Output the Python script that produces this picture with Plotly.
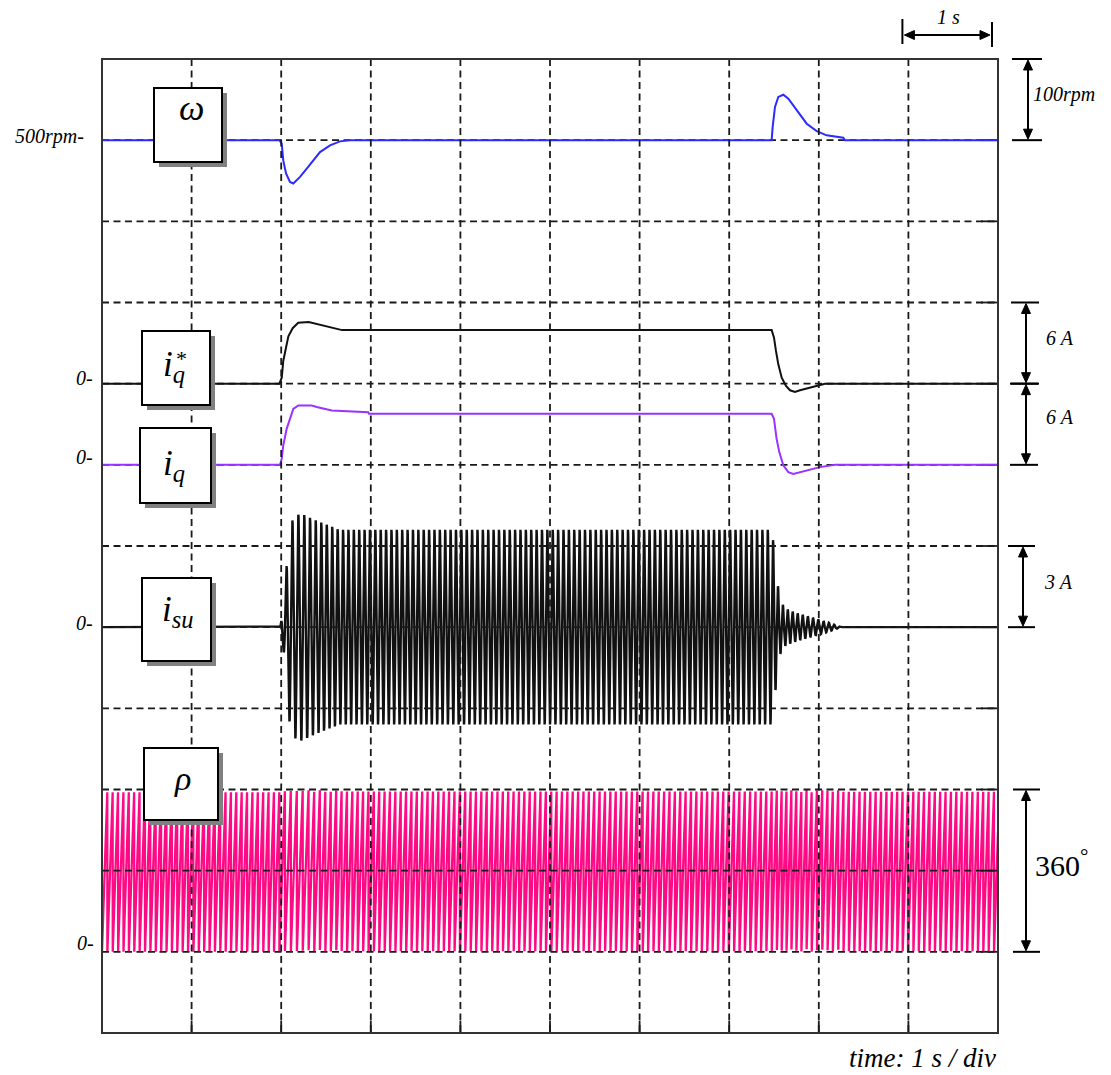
import numpy as np
import plotly.graph_objects as go

# ---------------- recorded channels ----------------
# speed omega (rpm): load step-on at ~2 s, step-off at ~7.5 s
T_OMEGA = [0.0, 1.98, 2.006, 2.023, 2.054, 2.098, 2.135, 2.21, 2.285, 2.358, 2.433, 2.545, 2.656, 2.768,
           7.474, 7.485, 7.511, 7.548, 7.604, 7.66, 7.753, 7.865, 7.977, 8.088, 8.273, 8.292, 10.0]
OMEGA_RPM = [500, 500, 495.7, 475, 459, 448.6, 446.6, 454.8, 465, 475, 485.3, 493.6, 498.5, 500,
             500, 516.4, 541, 553.3, 556, 551, 536.7, 520.3, 511.2, 506, 503, 500, 500]

# q-axis current reference i_q* (A)
T_IQ_REF = [0.0, 1.98, 2.006, 2.023, 2.054, 2.08, 2.128, 2.19, 2.307, 2.455, 2.679,
            7.474, 7.5, 7.522, 7.548, 7.586, 7.634, 7.679, 7.734, 7.79, 7.902, 7.994, 8.069, 10.0]
IQ_REF_A = [0, 0, 0.44, 1.68, 2.67, 3.5, 4.1, 4.5, 4.56, 4.34, 3.96,
            3.96, 3.4, 2.42, 1.43, 0.44, -0.17, -0.49, -0.62, -0.49, -0.30, -0.12, 0, 0]

# measured q-axis current i_q (A)
T_IQ = [0.0, 1.987, 2.006, 2.023, 2.061, 2.098, 2.135, 2.191, 2.34, 2.396, 2.564, 2.972, 2.98,
        7.474, 7.5, 7.529, 7.559, 7.604, 7.66, 7.715, 7.79, 7.902, 8.013, 8.181, 10.0]
IQ_A = [0, 0, 0.44, 1.43, 2.66, 3.4, 4.14, 4.39, 4.39, 4.27, 4.02, 3.89, 3.77,
        3.77, 3.4, 1.92, 0.94, -0.04, -0.54, -0.67, -0.54, -0.34, -0.17, 0, 0]

# peak envelope of the phase current i_su (A)
T_ISU_ENV = [0.0, 1.99, 2.03, 2.06, 2.10, 2.15, 2.22, 2.35, 2.5, 2.65,
             7.47, 7.50, 7.53, 7.57, 7.62, 7.70, 7.85, 8.0, 8.15, 8.25, 10.0]
ISU_ENV_A = [0, 0, 1.0, 2.3, 3.8, 4.1, 4.2, 4.0, 3.8, 3.6,
             3.6, 3.0, 1.8, 1.0, 0.7, 0.58, 0.42, 0.28, 0.12, 0, 0]

POLE_PAIRS = 2          # electrical angle rho = pole pairs x mechanical angle
DT = 0.001              # logging step (s)
T_END = 10.0

# ---------------- screen / channel settings ----------------
FIG_W, FIG_H = 1111, 1075
M_L, M_R, M_T, M_B = 102, 113, 59, 42
PLOT_W = FIG_W - M_L - M_R
PLOT_H = FIG_H - M_T - M_B
N_XDIV, N_YDIV = 10, 12

OMEGA_DIV0, OMEGA_REF, OMEGA_PER_DIV = 11, 500, 100
IQREF_DIV0, IQ_DIV0, IQ_PER_DIV = 8, 7, 6
ISU_DIV0, ISU_PER_DIV = 5, 3
RHO_DIV0, RHO_PER_DIV = 1, 180

FONT = "Liberation Serif"
C_OMEGA, C_IQ, C_RHO, C_INK = "#2b2bff", "#9933ff", "#ff0a85", "#111111"

# ---------------- derived channels ----------------
t = np.arange(0.0, T_END + DT / 2, DT)
omega_t = np.interp(t, T_OMEGA, OMEGA_RPM)
theta_e = np.concatenate([[0.0], np.cumsum(POLE_PAIRS * omega_t[:-1] / 60.0 * 360.0 * DT)])
rho = np.mod(theta_e, 360.0)
isu = np.interp(t, T_ISU_ENV, ISU_ENV_A) * np.sin(np.deg2rad(theta_e))


def paper_x(px):
    return (px - M_L) / PLOT_W


def paper_y(py):
    return (M_T + PLOT_H - py) / PLOT_H


def pix_x(sec):
    return M_L + PLOT_W * sec / N_XDIV


def pix_y(div):
    return M_T + PLOT_H * (1 - div / N_YDIV)


fig = go.Figure()
fig.add_trace(go.Scatter(x=t, y=RHO_DIV0 + rho / RHO_PER_DIV, mode="lines",
                         line=dict(color=C_RHO, width=2.3), hoverinfo="skip"))
fig.add_trace(go.Scatter(x=t, y=ISU_DIV0 + isu / ISU_PER_DIV, mode="lines",
                         line=dict(color=C_INK, width=2.4), hoverinfo="skip"))
fig.add_trace(go.Scatter(x=T_IQ, y=[IQ_DIV0 + v / IQ_PER_DIV for v in IQ_A], mode="lines",
                         line=dict(color=C_IQ, width=2), hoverinfo="skip"))
fig.add_trace(go.Scatter(x=T_IQ_REF, y=[IQREF_DIV0 + v / IQ_PER_DIV for v in IQ_REF_A], mode="lines",
                         line=dict(color=C_INK, width=2), hoverinfo="skip"))
fig.add_trace(go.Scatter(x=T_OMEGA, y=[OMEGA_DIV0 + (v - OMEGA_REF) / OMEGA_PER_DIV for v in OMEGA_RPM],
                         mode="lines", line=dict(color=C_OMEGA, width=2), hoverinfo="skip"))

shapes = []
GRID_COLOR, GRID_W, GRID_DASH = "#1a1a1a", 1.8, "7px,4.5px"


def seg(x0, y0, x1, y1, width=2, color="black", layer="above", dash=None):
    ln = dict(color=color, width=width)
    if dash:
        ln["dash"] = dash
    return dict(type="line", xref="paper", yref="paper", layer=layer,
                x0=paper_x(x0), y0=paper_y(y0), x1=paper_x(x1), y1=paper_y(y1), line=ln)


# graticule
for k in range(1, N_YDIV):
    lay = "below" if k in (7, 8, 11) else "above"
    shapes.append(seg(M_L, pix_y(k), M_L + PLOT_W, pix_y(k), width=GRID_W, color=GRID_COLOR,
                      layer=lay, dash=GRID_DASH))
    shapes.append(seg(M_L + PLOT_W - 17, pix_y(k), M_L + PLOT_W, pix_y(k), width=GRID_W,
                      color=GRID_COLOR, layer=lay))
for k in range(1, N_XDIV):
    shapes.append(seg(pix_x(k), M_T, pix_x(k), M_T + PLOT_H, width=GRID_W, color=GRID_COLOR, dash=GRID_DASH))
    shapes.append(seg(pix_x(k), M_T + PLOT_H - 12, pix_x(k), M_T + PLOT_H, width=GRID_W, color=GRID_COLOR))

# frame
shapes.append(dict(type="rect", xref="paper", yref="paper", x0=0, y0=0, x1=1, y1=1,
                   line=dict(color="#333333", width=2), layer="above"))


def boxed(x0, y0, x1, y1, off=5):
    shapes.append(dict(type="rect", xref="paper", yref="paper", layer="above",
                       x0=paper_x(x0 + off), y0=paper_y(y0 + off), x1=paper_x(x1 + off), y1=paper_y(y1 + off),
                       fillcolor="#808080", line=dict(width=0)))
    shapes.append(dict(type="rect", xref="paper", yref="paper", layer="above",
                       x0=paper_x(x0), y0=paper_y(y0), x1=paper_x(x1), y1=paper_y(y1),
                       fillcolor="white", line=dict(color="black", width=2)))


boxed(154, 88, 222, 162)    # omega
boxed(142, 331, 210, 405)   # iq*
boxed(140, 428, 211, 503)   # iq
boxed(142, 578, 211, 661)   # isu
boxed(144, 748, 218, 820)   # rho


def tri(tip_x, tip_y, dx, dy, half=4.5, length=10):
    # filled arrow head pointing along (dx, dy)
    bx, by = tip_x - dx * length, tip_y - dy * length
    px_, py_ = -dy * half, dx * half
    pts = [(tip_x, tip_y), (bx + px_, by + py_), (bx - px_, by - py_)]
    path = "M " + " L ".join(f"{paper_x(a):.5f},{paper_y(b):.5f}" for a, b in pts) + " Z"
    shapes.append(dict(type="path", xref="paper", yref="paper", path=path, layer="above",
                       fillcolor="black", line=dict(color="black", width=1)))


def v_scale(x, y_top, y_bot, bx0, bx1):
    shapes.append(seg(bx0, y_top, bx1, y_top))
    shapes.append(seg(bx0, y_bot, bx1, y_bot))
    shapes.append(seg(x, y_top + 8, x, y_bot - 8))
    tri(x, y_top + 1, 0, -1)
    tri(x, y_bot - 1, 0, 1)


v_scale(1028, pix_y(12), pix_y(11), 1012, 1042)
v_scale(1026, pix_y(9), pix_y(8), 1011, 1039)
v_scale(1026, pix_y(8), pix_y(7), 1010, 1038)
v_scale(1023, pix_y(6), pix_y(5), 1008, 1035)
v_scale(1026, pix_y(3), pix_y(1), 1013, 1040)

# 1 s time marker
hx0, hx1, hy = pix_x(9) - 6, pix_x(10) - 6, 35
shapes.append(seg(hx0, 19, hx0, 44))
shapes.append(seg(hx1, 22, hx1, 47))
shapes.append(seg(hx0 + 8, hy, hx1 - 8, hy))
tri(hx0 + 2, hy, -1, 0)
tri(hx1 - 2, hy, 1, 0)

annotations = []


def text(s, x, y, size, xanchor="center", g=0.34):
    yc = y - (0.3375 - g) * size
    annotations.append(dict(text=s, x=paper_x(x), y=paper_y(yc), xref="paper", yref="paper",
                            xanchor=xanchor, yanchor="middle", showarrow=False,
                            font=dict(family=FONT, size=size, color="black")))


# channel zero markers
text("<i>500rpm-</i>", 86, 136, 20, "right")
text("<i>0-</i>", 95, 378, 20, "right")
text("<i>0-</i>", 95, 457, 20, "right")
text("<i>0-</i>", 95, 623, 20, "right")
text("<i>0-</i>", 96, 943, 20, "right")

# scale labels
text("<i>1 s</i>", 948, 17, 20)
text("<i>100rpm</i>", 1031, 94, 20, "left")
text("<i>6 A</i>", 1044, 338, 20, "left")
text("<i>6 A</i>", 1044, 417, 20, "left")
text("<i>3 A</i>", 1042, 582, 20, "left")
text("360<sup>°</sup>", 1033, 863, 30, "left")
text("<i>time: 1 s / div</i>", 998, 1058, 27, "right")

# channel names inside the boxes
text("<i>ω</i>", 191, 112, 36, g=0.23)
text("<i>i</i><sub><i>q</i></sub>", 174, 369, 35, g=0.26)
text("*", 181, 354, 22, g=0.55)
text("<i>i</i><sub><i>q</i></sub>", 174, 468, 35, g=0.26)
text("<i>i</i><sub><i>su</i></sub>", 178, 613, 35, g=0.29)
text("<i>ρ</i>", 182, 786, 34, g=0.12)

fig.update_layout(
    width=FIG_W, height=FIG_H, autosize=False,
    margin=dict(l=M_L, r=M_R, t=M_T, b=M_B, pad=0),
    paper_bgcolor="white", plot_bgcolor="white", showlegend=False,
    font=dict(family=FONT),
    xaxis=dict(range=[0, N_XDIV], visible=False, fixedrange=True),
    yaxis=dict(range=[0, N_YDIV], visible=False, fixedrange=True),
    shapes=shapes, annotations=annotations,
)

fig.write_html("out.html")
